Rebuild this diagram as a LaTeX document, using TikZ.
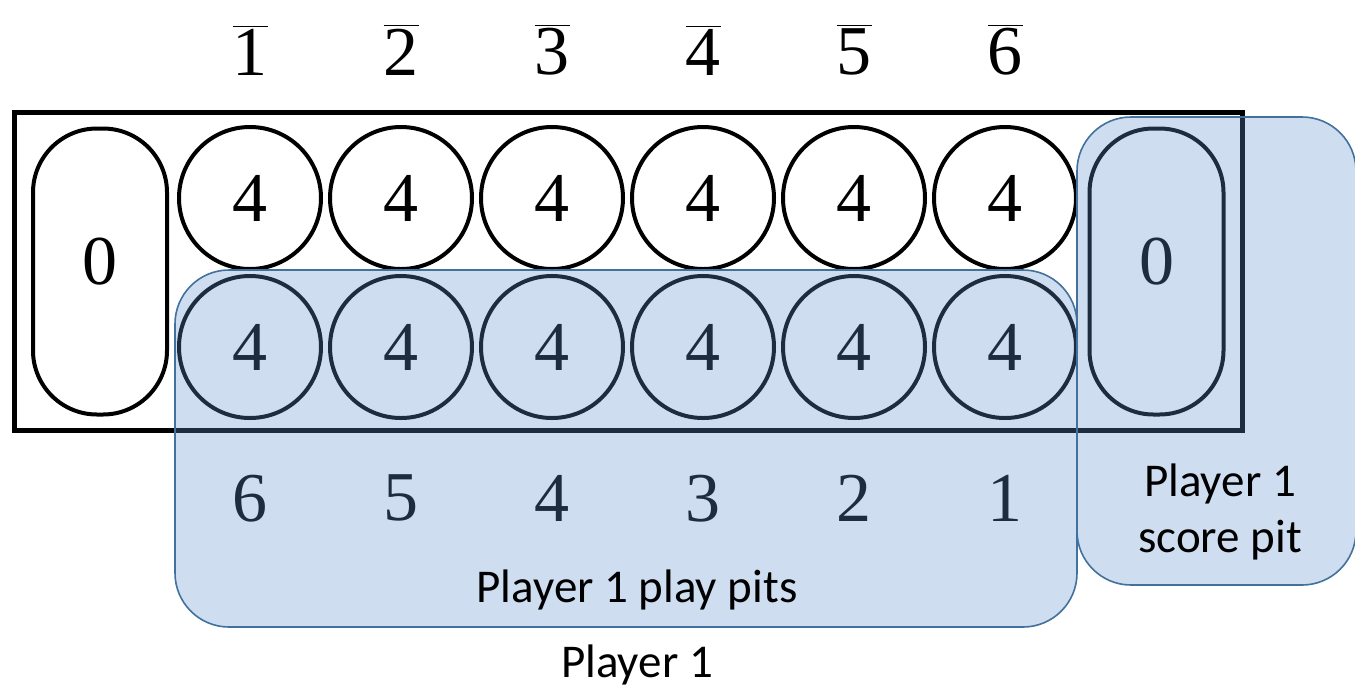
\documentclass[tikz,border=0pt]{standalone}
\usepackage{fontspec}
\setmainfont{Liberation Serif}
\newfontfamily\captionfont{Carlito}
\usetikzlibrary{positioning}
\definecolor{RegionBlue}{RGB}{100,145,206}
\definecolor{RegionEdge}{RGB}{65,113,156}
\newcommand{\barnum}[1]{$\overline{\hbox{#1}}$}
\tikzset{
  pitnode/.style={draw=black,line width=2pt,circle,minimum size=71pt,inner sep=0pt,outer sep=0pt,font=\fontsize{35}{40}\selectfont},
  storenode/.style={draw=black,line width=2pt,rounded corners=32pt,minimum width=67pt,minimum height=143pt,inner sep=0pt,outer sep=0pt,text depth=10pt,font=\fontsize{35}{40}\selectfont},
  numlabel/.style={inner sep=0pt,outer sep=0pt,font=\fontsize{35}{40}\selectfont},
  regionnode/.style={draw=RegionEdge,line width=0.8pt,fill=RegionBlue,fill opacity=0.31,rounded corners=27pt,inner sep=0pt},
  captionnode/.style={inner sep=0pt,align=center,font=\captionfont\fontsize{23.5}{28}\selectfont}
}

\begin{document}
\begin{tikzpicture}[x=0.5pt,y=-0.5pt,node distance=4.5pt]
\useasboundingbox (0,0) rectangle (1355,687);

% board
\draw[line width=2.5pt] (14.5,112.5) rectangle (1242,430.5);
\node[storenode] (s0) at (100,271.5) {0};
\node[storenode] (s1) at (1156.5,271.5) {0};

% top row
\node[pitnode] (t1) at (250,198) {4};
\node[pitnode, right=of t1] (t2) {4};
\node[pitnode, right=of t2] (t3) {4};
\node[pitnode, right=of t3] (t4) {4};
\node[pitnode, right=of t4] (t5) {4};
\node[pitnode, right=of t5] (t6) {4};

% bottom row
\node[pitnode, below=3.5pt of t1] (b1) {4};
\node[pitnode, right=of b1] (b2) {4};
\node[pitnode, right=of b2] (b3) {4};
\node[pitnode, right=of b3] (b4) {4};
\node[pitnode, right=of b4] (b5) {4};
\node[pitnode, right=of b5] (b6) {4};

% pit numbers
\node[numlabel, above=26pt of t1] (n1) {\barnum{1}};
\node[numlabel, above=26pt of t2] (n2) {\barnum{2}};
\node[numlabel, above=26pt of t3] (n3) {\barnum{3}};
\node[numlabel, above=26pt of t4] (n4) {\barnum{4}};
\node[numlabel, above=26pt of t5] (n5) {\barnum{5}};
\node[numlabel, above=26pt of t6] (n6) {\barnum{6}};
\node[numlabel, below=28.5pt of b1] (m6) {6};
\node[numlabel, below=28.5pt of b2] (m5) {5};
\node[numlabel, below=28.5pt of b3] (m4) {4};
\node[numlabel, below=28.5pt of b4] (m3) {3};
\node[numlabel, below=28.5pt of b5] (m2) {2};
\node[numlabel, below=28.5pt of b6] (m1) {1};

% player 1 regions
\node[regionnode, minimum width=451pt, minimum height=178.5pt] (playpits) at (626,448.5) {};
\node[regionnode, minimum width=139.5pt, minimum height=234pt] (scorepit) at (1216.5,351) {};

\node[captionnode] (playlbl) at (637,590) {Player 1 play pits};
\node[captionnode] (scorelbl) at (1220,512) {Player 1\\score pit};
\node[captionnode] (player) at (637,665) {Player 1};
\end{tikzpicture}
\end{document}
